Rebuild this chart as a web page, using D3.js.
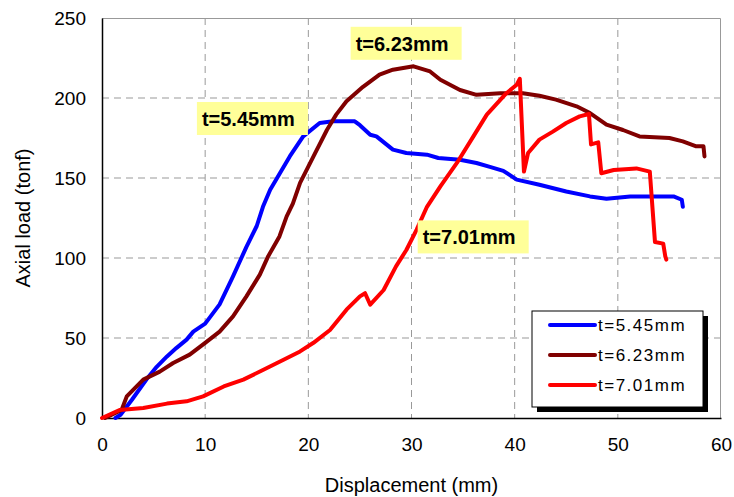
<html lang="en">
<head>
<meta charset="UTF-8">
<title>axial load</title>
<script src="https://d3js.org/d3.v7.min.js"></script>
<style>
  body { margin: 0; background: #fff; }
  text { font-family: Arial, "Liberation Sans", sans-serif; }
</style>
</head>
<body>
<svg id="chart" width="734" height="497"></svg>
<script>
// t=5.45mm
let blueX = [1.3,1.8,2.9,4.3,5.3,6.3,7.2,8.2,8.85,10,11.4,12.7,14.0,15.0,15.6,16.3,18.2,19.5,21.1,22.4,23.5,24.5,25.0,26.0,26.6,28.2,29.5,31.5,32.6,34.7,36.3,37.6,38.9,40.2,42.4,45.0,47.3,48.9,51.2,53.7,55.4,56.2,56.3]
let blueY = [0,2,11.4,24,32,38.5,43.7,49,54,59,71,88.5,107,120,132,142.7,163.5,176,184.4,185.4,185.4,185.4,183,177,176,167.7,165.6,164.6,162.5,161.4,159.4,157,154.5,149,145.8,141.6,138.5,137,138.5,138.5,138.5,136.4,132]
// t=6.23mm
let darkX = [0.3,1.9,2.4,4.0,5.6,6.9,8.5,10,11.4,12.7,14.0,15.3,16.1,17.2,17.9,18.5,19.2,20.5,21.8,22.7,23.7,25.3,26.9,28.2,30.2,31.8,32.8,34.7,36.3,38.6,40.8,42.4,44.0,46.0,47.3,48.9,50.5,52.1,55.0,56.3,57.6,58.3,58.4]
let darkY = [0,5,13.5,24,29,34.4,39.6,47,54,63.5,76,89.6,101,113.5,126,134,147,163.5,180,189.6,198,207,214.6,217.7,219.8,216.6,211.4,205,202,203,203,201.4,199,194.8,190.6,183.3,180,176,175,172.9,169.8,169.8,163.5]
// t=7.01mm
let redX = [0,1.7,4.0,6.3,8.2,9.8,11.8,13.7,15.6,17.6,19.2,20.5,22.1,23.7,25.0,25.5,26.0,27.3,28.5,29.5,30.5,31.5,32.8,34.4,36.0,37.3,39.2,40.2,40.5,40.9,41.3,42.4,43.7,45.0,46.3,47.2,47.4,48.1,48.4,49.6,51.8,53.1,53.6,54.4,54.6,54.7]
let redY = [0,5,6.2,9,10.4,13.5,19.7,24,30,36.4,41.6,47,55,67.7,76,78,70.8,80,94.8,105,117.7,132,144.8,159.4,176,189.6,203,208.3,212,154,165.6,174,179,184.4,188.5,190,171,172.3,153,155,156,154,110,109,101,99]

let seriesNames = ["t=5.45mm", "t=6.23mm", "t=7.01mm"]
let seriesColors = ["#0000ff", "#800000", "#ff0000"]
let xTicks = [0,10,20,30,40,50,60]
let yTicks = [0,50,100,150,200,250]
// label boxes, top-left corner in data units
let noteX = [9.2, 24.1, 30.6]
let noteY = [197.5, 244.5, 123.5]

let svg = d3.select("#chart")
let margin = {left: 102, top: 18, right: 13, bottom: 79}
let w = 734 - margin.left - margin.right
let h = 497 - margin.top - margin.bottom

let x = d3.scaleLinear().domain([0, 60]).range([0, w])
let y = d3.scaleLinear().domain([0, 250]).range([h, 0])

let g = svg.append("g").attr("transform", `translate(${margin.left},${margin.top})`)

// grid
g.selectAll(".vg").data(xTicks.slice(1, -1)).enter().append("line")
  .attr("x1", d => x(d)).attr("x2", d => x(d)).attr("y1", 0).attr("y2", h)
  .attr("stroke", "#999").attr("stroke-dasharray", "7,5")
g.selectAll(".hg").data(yTicks.slice(1, -1)).enter().append("line")
  .attr("y1", d => y(d)).attr("y2", d => y(d)).attr("x1", 0).attr("x2", w)
  .attr("stroke", "#999").attr("stroke-dasharray", "7,5")

// frame: top + right gray
g.append("path").attr("d", `M0,0.5H${w - 0.5}V${h}`).attr("fill", "none").attr("stroke", "#999")

// axes
let xAxis = d3.axisBottom(x).tickValues(xTicks).tickSize(0).tickPadding(20)
let yAxis = d3.axisLeft(y).tickValues(yTicks).tickSize(0).tickPadding(16)
let gx = g.append("g").attr("transform", `translate(0,${h})`).call(xAxis)
let gy = g.append("g").call(yAxis)
gx.select(".domain").attr("stroke", "#000").attr("stroke-width", 1.5)
gy.select(".domain").attr("stroke", "#000").attr("stroke-width", 1.5)
svg.selectAll(".tick text").attr("font-size", 19).attr("fill", "#000")
  .attr("font-family", "Arial, 'Liberation Sans', sans-serif")

// curves
let line = d3.line().x(d => x(d[0])).y(d => y(d[1]))
let series = [d3.zip(blueX, blueY), d3.zip(darkX, darkY), d3.zip(redX, redY)]
g.selectAll(".curve").data(series).enter().append("path")
  .attr("d", line)
  .attr("fill", "none")
  .attr("stroke", (d, i) => seriesColors[i])
  .attr("stroke-width", 4)
  .attr("stroke-linejoin", "round")
  .attr("stroke-linecap", "round")

// notes
noteX.forEach((nx, i) => {
  let bx = x(nx), by = y(noteY[i])
  g.append("rect").attr("x", bx).attr("y", by).attr("width", 111).attr("height", 33).attr("fill", "#ffff99")
  g.append("text").attr("x", bx + 5).attr("y", by + 24).text(seriesNames[i])
    .attr("font-size", 20).attr("font-weight", "bold").attr("fill", "#000")
})

// legend
let lx = 532 - margin.left, ly = 311 - margin.top
g.append("rect").attr("x", lx + 5).attr("y", ly + 5).attr("width", 171).attr("height", 96).attr("fill", "#000")
g.append("rect").attr("x", lx).attr("y", ly).attr("width", 171).attr("height", 96)
  .attr("fill", "#fff").attr("stroke", "#000").attr("stroke-width", 1)
seriesNames.forEach((name, i) => {
  let yy = ly + 14 + i * 30
  g.append("line").attr("x1", lx + 18).attr("x2", lx + 63).attr("y1", yy).attr("y2", yy)
    .attr("stroke", seriesColors[i]).attr("stroke-width", 4).attr("stroke-linecap", "round")
  g.append("text").attr("x", lx + 66).attr("y", yy + 6).text(name)
    .attr("font-size", 17).attr("letter-spacing", 1.5).attr("fill", "#000")
})

// titles
svg.append("text").attr("x", margin.left + w / 2).attr("y", 492).attr("text-anchor", "middle")
  .attr("font-size", 20).text("Displacement (mm)")
svg.append("text").attr("transform", `translate(30,${margin.top + h / 2}) rotate(-90)`)
  .attr("text-anchor", "middle").attr("font-size", 20).text("Axial load (tonf)")
</script>
</body>
</html>
